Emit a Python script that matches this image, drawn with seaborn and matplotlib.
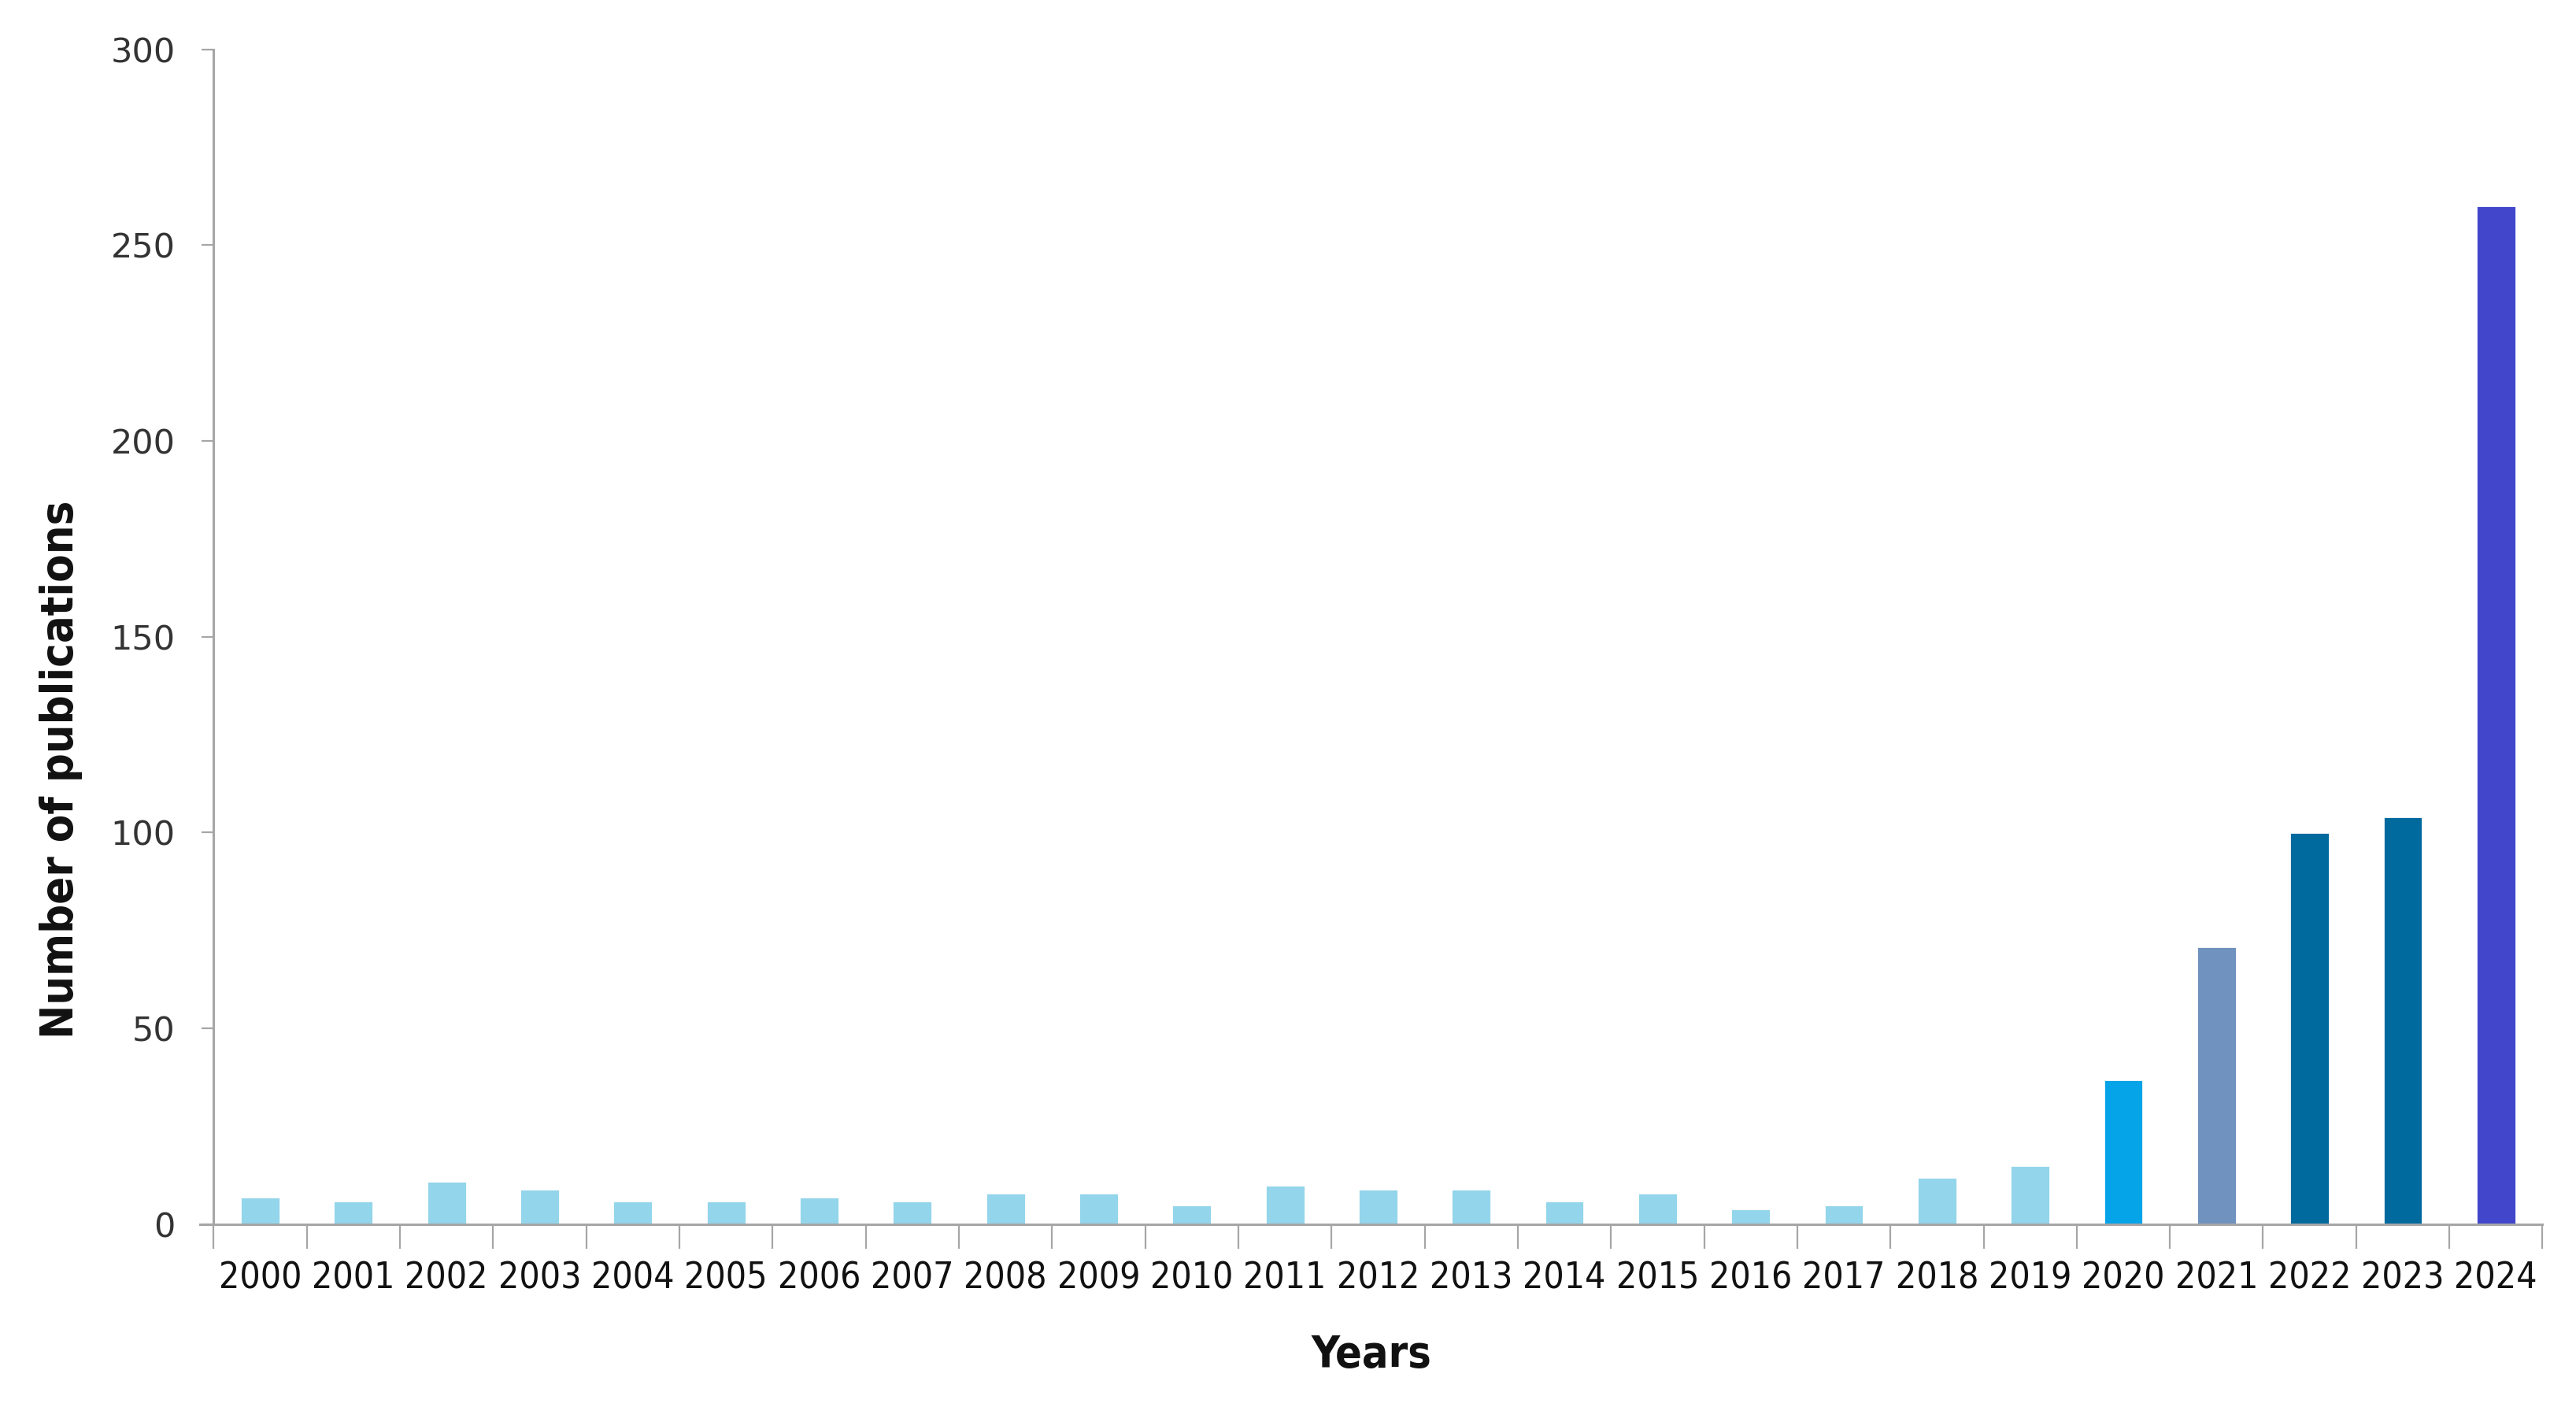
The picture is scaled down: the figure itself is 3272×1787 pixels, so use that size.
import numpy as np
import matplotlib
matplotlib.use("Agg")
import matplotlib.pyplot as plt
from matplotlib import font_manager
import seaborn as sns

years = [str(y) for y in range(2000, 2025)]
counts = [7, 6, 11, 9, 6, 6, 7, 6, 8, 8, 5, 10, 9, 9, 6, 8, 4, 5, 12, 15,
          37, 71, 100, 104, 260]
colors = ["#93D5EA"] * 20 + ["#05A3E8", "#7092BE", "#006A9E", "#006A9E", "#4146CB"]

sns.set_theme(style="white")

# look for a condensed face, the original labels are narrow
cond = None
for f in font_manager.fontManager.ttflist:
    if f.stretch in ('condensed', 'semi-condensed', 'extra-condensed') or 'Narrow' in f.name:
        cond = f.name
        break
if cond is None:
    cond = "Liberation Sans"
plt.rcParams['font.family'] = [cond, 'DejaVu Sans']
stretch = 'condensed'

fig = plt.figure(figsize=(16.36, 8.935), dpi=200)
ax = fig.add_axes([0.0775, 0.130, 0.9095, 0.835])

sns.barplot(x=years, y=counts, hue=years, palette=colors, legend=False,
            width=0.43, saturation=1, ax=ax)

ax.set_ylim(0, 300)
ax.set_yticks(np.arange(0, 301, 50))
ax.set_xlim(-0.65, 24.5)
ax.spines['left'].set_position(('data', -0.5))
for s in ['top', 'right']:
    ax.spines[s].set_visible(False)
for s in ['left', 'bottom']:
    ax.spines[s].set_color("#A6A6A6")
    ax.spines[s].set_linewidth(1.1)

ax.set_xticks(np.arange(-0.5, 25, 1), minor=True)
ax.tick_params(axis='x', which='major', length=0, pad=17, labelcolor="#111111")
ax.tick_params(axis='x', which='minor', length=11, width=0.8, color="#A6A6A6", direction='out', bottom=True)
ax.tick_params(axis='y', which='major', length=5.5, width=0.8, color="#A6A6A6", left=True, pad=12)
xsize = 16.6 if cond != "Liberation Sans" else 17.2
for t in ax.get_xticklabels():
    t.set_fontsize(xsize)
    t.set_fontstretch(stretch)
for t in ax.get_yticklabels():
    t.set_fontfamily('DejaVu Sans')
    t.set_fontsize(15.5)
    t.set_color("#333333")

ax.set_xlabel("Years", fontsize=20, fontweight='bold', labelpad=17, color="#111111",
              fontstretch=stretch)
ax.set_ylabel("Number of publications", fontsize=20.7, fontweight='bold', color="#111111",
              fontstretch=stretch)
ax.yaxis.set_label_coords(-0.050, 0.387)

fig.savefig("out.png", dpi=200, facecolor="white")
